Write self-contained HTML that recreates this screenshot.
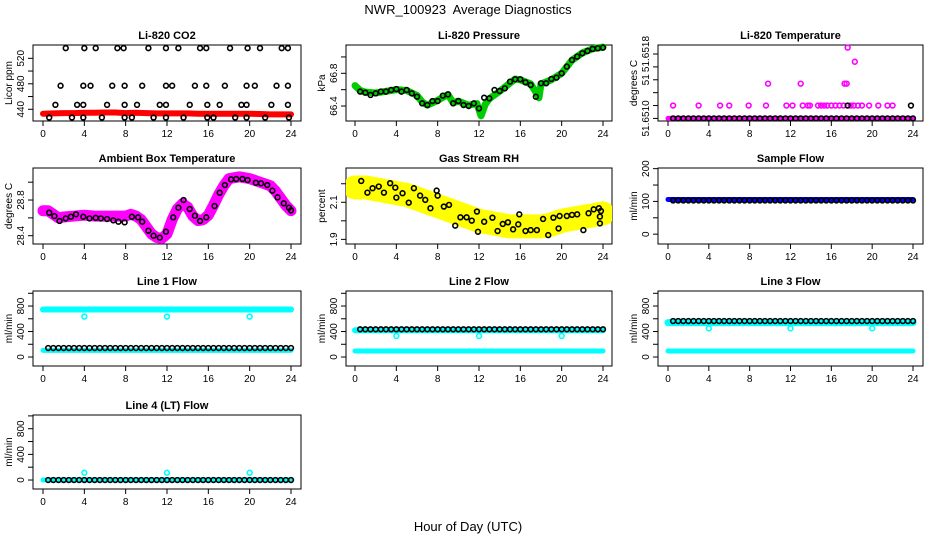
<!DOCTYPE html>
<html><head><meta charset="utf-8"><style>
html,body{margin:0;padding:0;background:#fff}
svg{display:block;font-family:"Liberation Sans",sans-serif}
</style></head><body>
<svg id="chart" width="936" height="540" viewBox="0 0 936 540" xmlns="http://www.w3.org/2000/svg">
<text x="468" y="14" text-anchor="middle" font-size="13" style="white-space:pre">NWR_100923&#160; Average Diagnostics</text>
<text x="468" y="531" text-anchor="middle" font-size="13">Hour of Day (UTC)</text>
</svg>
<script>
// ---------- data ----------
const halfHours=[0.5,1,1.5,2,2.5,3,3.5,4,4.5,5,5.5,6,6.5,7,7.5,8,8.5,9,9.5,10,10.5,11,11.5,12,12.5,13,13.5,14,14.5,15,15.5,16,16.5,17,17.5,18,18.5,19,19.5,20,20.5,21,21.5,22,22.5,23,23.5,24];
const bandHours=[0,1,2,3,4,5,6,7,8,9,10,11,12,13,14,15,16,17,18,19,20,21,22,23,24];
const xTicks=[0,4,8,12,16,20,24];

// CO2
const co2Hi=[2.2,4.0,5.1,7.2,7.8,10.2,11.9,13.1,15.2,15.8,18.1,19.8,21.0,23.1,23.7];
const co2Mid=[1.7,3.9,4.6,6.7,7.9,9.6,11.9,12.5,14.7,15.8,17.6,19.7,20.5,22.6,23.7];
const co2Low=[1.2,3.3,3.9,6.2,7.9,9.1,11.3,11.9,14.2,15.9,17.1,19.2,19.7,22.1,23.7];
const co2Min=[0.6,2.8,3.9,5.7,7.9,8.6,10.7,11.9,13.6,15.9,16.5,18.6,19.7,21.5,23.8];
const co2Levels=[536,477,447,427];
const co2Band=[433,433.5,434,434,434.5,434.5,435,435,434,434.5,434,433.5,433.5,433.5,433.5,433,433,433,433,433,433,432.5,432,432,432];

// Pressure
const presVals=[66.576,66.563,66.535,66.555,66.576,66.576,66.596,66.608,66.576,66.596,66.555,66.514,66.433,66.412,66.461,66.461,66.527,66.543,66.433,66.461,66.412,66.40,66.433,66.371,66.502,66.494,66.596,66.584,66.616,66.698,66.727,66.727,66.69,66.657,66.514,66.678,66.678,66.731,66.747,66.8,66.882,66.963,67.004,67.045,67.073,67.098,67.106,67.114];
const presBandHours=[0,0.5,1,2,3,4,5,6,6.5,7,8,9,9.5,10,11,11.8,12.2,12.6,13,14,15,15.5,16,17,17.5,17.8,18,19,20,21,22,23,24];
const presBandVals=[66.65,66.59,66.57,66.56,66.58,66.6,66.59,66.53,66.45,66.41,66.47,66.54,66.44,66.46,66.41,66.43,66.28,66.42,66.49,66.58,66.68,66.73,66.72,66.67,66.57,66.5,66.67,66.72,66.8,66.96,67.05,67.1,67.12];

// Temperature
const tempBase=51.6510;
const tempMidHours=[0.5,3,5.1,6,7.9,9.6,11.6,12.2,13.2,13.7,13.9,14.7,15,15.3,15.6,16,16.4,16.8,17.2,17.9,18.2,18.6,19,19.7,20.6,21.5,22];
const tempMidVal=51.6511;
const tempHighHours=[9.8,13,17.3,17.5,18.3,17.6];
const tempHighVals=[51.65127,51.65127,51.65127,51.65127,51.65144,51.65155];
const tempBlackExtraHours=[17.6,23.8];

// Ambient
const ambHours=[0.6,1.1,1.6,2.2,2.7,3.2,3.9,4.5,5.1,5.6,6.2,6.8,7.3,7.9,8.6,9.2,9.6,10.2,10.7,11.3,11.9,12.6,13.1,13.6,14.2,14.7,15.2,15.8,16.6,17.1,17.6,18.2,18.7,19.3,19.8,20.6,21.1,21.7,22.2,22.7,23.3,23.8,24];
const ambVals=[28.658,28.62,28.565,28.594,28.613,28.64,28.613,28.594,28.6,28.594,28.587,28.572,28.557,28.55,28.613,28.606,28.557,28.456,28.4,28.378,28.445,28.606,28.714,28.8,28.699,28.624,28.565,28.606,28.733,28.882,28.968,29.032,29.036,29.036,29.024,28.994,28.987,28.968,28.905,28.83,28.763,28.714,28.684];
const ambBandHours=[0,0.5,1,1.5,2,3,4,5,6,7,8,8.5,9,9.5,10,10.5,11,11.5,12,12.5,13,13.5,14,14.5,15,15.5,16,16.5,17,17.5,18,19,20,21,22,22.5,23,23.5,24];
const ambBandVals=[28.68,28.68,28.64,28.6,28.61,28.62,28.63,28.62,28.62,28.62,28.62,28.64,28.62,28.58,28.5,28.42,28.38,28.37,28.42,28.58,28.7,28.76,28.72,28.62,28.57,28.58,28.63,28.74,28.86,28.96,29.04,29.06,29.04,29.0,28.96,28.9,28.82,28.74,28.68];

// RH
const rhHours=[0.6,1.2,1.7,2.3,2.8,3.4,3.9,4.0,4.6,5.2,5.7,6.3,6.8,7.3,7.9,8.0,8.6,9.1,9.7,10.2,10.8,11.3,11.8,11.9,12.5,13.3,13.8,14.3,14.8,15.3,15.8,15.9,16.5,17.0,17.6,18.2,18.7,19.2,19.7,19.8,20.5,21.0,21.5,22.1,22.6,23.1,23.6,23.7,23.7,23.8];
const rhVals=[2.215,2.152,2.176,2.185,2.152,2.203,2.179,2.125,2.149,2.098,2.176,2.136,2.113,2.068,2.163,2.136,2.077,2.086,1.974,2.019,2.019,2.001,2.05,1.941,1.995,2.017,1.945,1.983,1.992,1.954,1.981,2.035,1.945,1.95,1.95,2.01,1.923,2.017,1.959,2.026,2.026,2.032,2.035,1.95,2.041,2.062,2.068,2.023,1.986,2.053];
const rhBand=[2.18,2.18,2.17,2.16,2.15,2.14,2.12,2.10,2.08,2.06,2.04,2.02,2.00,1.99,1.98,1.97,1.97,1.97,1.97,1.98,2.00,2.01,2.02,2.03,2.04];

// Flows
const sampleBlack=[103,103,103,103,103,103,103,103,103,103,103,103,103,103,103,103,103,103,103,103,103,103,103,103,103,103,103,103,103,103,103,103,103,103,103,103,103,103,103,103,103,103,103,103,103,103,103,103];
const sampleBand=[106,106];
const line1Black=[141,141,141,141,141,141,141,141,141,141,141,141,141,141,141,141,141,141,141,141,141,141,141,141,141,141,141,141,141,141,141,141,141,141,141,141,141,141,141,141,141,141,141,141,141,141,141,141];
const line1BandHi=[745,745], line1BandLo=[105,105], line1Dips=[635,635,635];
const line2Black=[435,435,435,435,435,435,435,435,435,435,435,435,435,435,435,435,435,435,435,435,435,435,435,435,435,435,435,435,435,435,435,435,435,435,435,435,435,435,435,435,435,435,435,435,435,435,435,435];
const line2BandHi=[420,420], line2BandLo=[94,94], line2Dips=[330,330,330];
const line3Black=[565,565,565,565,565,565,565,565,565,565,565,565,565,565,565,565,565,565,565,565,565,565,565,565,565,565,565,565,565,565,565,565,565,565,565,565,565,565,565,565,565,565,565,565,565,565,565,565];
const line3BandHi=[540,540], line3BandLo=[94,94], line3Dips=[450,450,450];
const line4Black=[0,0,0,0,0,0,0,0,0,0,0,0,0,0,0,0,0,0,0,0,0,0,0,0,0,0,0,0,0,0,0,0,0,0,0,0,0,0,0,0,0,0,0,0,0,0,0,0];
const line4BandHi=[0,0], line4Dips=[114,114,114];
const dipHours=[4,12,20];
const bandEnds=[0,24];
const flowTicks=[0,200,400,600,800,1000], flowLabels=['0','','400','','800',''];

// ---------- drawing ----------
const svg=document.getElementById('chart');
const NS='http://www.w3.org/2000/svg';
const cols=[{x0:33,x1:301,h0:43,h24:291},{x0:346,x1:612,h0:355,h24:603},{x0:658,x1:923,h0:668,h24:913}];
const rows=[{y0:45,y1:121},{y0:168,y1:244},{y0:291,y1:366},{y0:415,y1:489}];
function mk(tag,attrs,parent){const e=document.createElementNS(NS,tag);for(const k in attrs)e.setAttribute(k,attrs[k]);(parent||svg).appendChild(e);return e;}

function panel(c,r,title,ylab,dmin,dmax,yt,yl,slug){
  const C=cols[c],R=rows[r];
  const g=mk('g',{});
  
  
  const sx=h=>C.h0+(h/24)*(C.h24-C.h0);
  const sy=v=>R.y1-(v-dmin)/(dmax-dmin)*(R.y1-R.y0);
  const t=mk('text',{x:(C.x0+C.x1)/2,y:R.y0-6,'text-anchor':'middle','font-size':'11','font-weight':'bold'},g);
  t.textContent=title;
  
  
  const box=mk('rect',{x:C.x0,y:R.y0,width:C.x1-C.x0,height:R.y1-R.y0,fill:'none',stroke:'#000','stroke-width':1},g);
  
  
  const xa=mk('g',{},g);
  
  
  mk('line',{x1:sx(0),x2:sx(24),y1:R.y1,y2:R.y1,stroke:'#000'},xa);
  xTicks.forEach(h=>{
    mk('line',{x1:sx(h),x2:sx(h),y1:R.y1,y2:R.y1+5,stroke:'#000'},xa);
    const l=mk('text',{x:sx(h),y:R.y1+16,'text-anchor':'middle','font-size':'10'},xa);
    l.textContent=h;
    
    
  });
  const ya=mk('g',{},g);
  
  
  mk('line',{x1:C.x0,x2:C.x0,y1:sy(yt[0]),y2:sy(yt[yt.length-1]),stroke:'#000'},ya);
  yt.forEach((v,i)=>{
    const y=sy(v);
    mk('line',{x1:C.x0-5,x2:C.x0,y1:y,y2:y,stroke:'#000'},ya);
    if(yl[i]){const l=mk('text',{x:C.x0-9,y:y,'text-anchor':'middle','font-size':'10',transform:`rotate(-90 ${C.x0-9} ${y})`},ya);
      l.textContent=yl[i];
      
      }
  });
  const ym=(R.y0+R.y1)/2, yx=C.x0-21;
  const yt2=mk('text',{x:yx,y:ym,'text-anchor':'middle','font-size':'10',transform:`rotate(-90 ${yx} ${ym})`},g);
  yt2.textContent=ylab;
  
  
  const clip='clip'+slug;
  const cp=mk('clipPath',{id:clip},g);mk('rect',{x:C.x0,y:R.y0-3,width:C.x1-C.x0,height:R.y1-R.y0+3},cp);
  const data=mk('g',{'clip-path':`url(#${clip})`},g);
  
  
  return {
    band(hs,vs,color,w){const pts=hs.map((h,i)=>sx(h)+','+sy(vs[i])).join(' ');
      const p=mk('polyline',{points:pts,fill:'none',stroke:color,'stroke-width':w,'stroke-linejoin':'round','stroke-linecap':'round'},data);
      
      },
    pts(hs,vs,color){hs.forEach((h,i)=>{const e=mk('circle',{cx:sx(h),cy:sy(vs[i]),r:2.4,fill:'none',stroke:color,'stroke-width':1.6},data);
      
      });},
    ptsConst(hs,v,color){hs.forEach(h=>{const e=mk('circle',{cx:sx(h),cy:sy(v),r:2.4,fill:'none',stroke:color,'stroke-width':1.6},data);
      
      });}
  };
}

// CO2
let p=panel(0,0,'Li-820 CO2','Licor ppm',421.6,540.9,[440,460,480,500,520],['440','','480','','520'],'co2');
p.band(bandHours,co2Band,'#ff0000',6);
p.ptsConst(co2Hi,co2Levels[0],'#000');p.ptsConst(co2Mid,co2Levels[1],'#000');p.ptsConst(co2Low,co2Levels[2],'#000');p.ptsConst(co2Min,co2Levels[3],'#000');
// Pressure
p=panel(1,0,'Li-820 Pressure','kPa',66.217,67.146,[66.4,66.6,66.8,67.0],['66.4','','66.8',''],'pressure');
p.band(presBandHours,presBandVals,'#00cc00',7);
p.pts(halfHours,presVals,'#000');
// Temperature
p=panel(2,0,'Li-820 Temperature','degrees C',51.65098,51.65157,[51.6510,51.6511,51.6512,51.6513,51.6514,51.6515],['51.6510','','','51','','51.6518'],'temperature');
p.band(bandEnds,[tempBase,tempBase],'#ff00ff',5);
p.ptsConst(halfHours,tempBase,'#000');
p.ptsConst(tempMidHours,tempMidVal,'#ff00ff');
p.pts(tempHighHours,tempHighVals,'#ff00ff');
p.ptsConst(tempBlackExtraHours,tempMidVal,'#000');
// Ambient
p=panel(0,1,'Ambient Box Temperature','degrees C',28.307,29.159,[28.4,28.6,28.8,29.0],['28.4','','28.8',''],'ambient');
p.band(ambBandHours,ambBandVals,'#ff00ff',11);
p.pts(ambHours,ambVals,'#000');
// RH
p=panel(1,1,'Gas Stream RH','percent',1.875,2.285,[1.9,2.0,2.1,2.2],['1.9','','2.1',''],'rh');
p.band(bandHours,rhBand,'#ffff00',24);
p.pts(rhHours,rhVals,'#000');
// Sample flow
p=panel(2,1,'Sample Flow','ml/min',-30,202,[0,50,100,150,200],['0','','100','','200'],'sample-flow');
p.band(bandEnds,sampleBand,'#0000ff',5);
p.pts(halfHours,sampleBlack,'#000');
// Line flows
p=panel(0,2,'Line 1 Flow','ml/min',-141,1036,flowTicks,flowLabels,'line1-flow');
p.band(bandEnds,line1BandHi,'#00ffff',6);p.band(bandEnds,line1BandLo,'#00ffff',5);
p.pts(dipHours,line1Dips,'#00ffff');p.pts(halfHours,line1Black,'#000');
p=panel(1,2,'Line 2 Flow','ml/min',-141,1036,flowTicks,flowLabels,'line2-flow');
p.band(bandEnds,line2BandHi,'#00ffff',6);p.band(bandEnds,line2BandLo,'#00ffff',5);
p.pts(dipHours,line2Dips,'#00ffff');p.pts(halfHours,line2Black,'#000');
p=panel(2,2,'Line 3 Flow','ml/min',-141,1036,flowTicks,flowLabels,'line3-flow');
p.band(bandEnds,line3BandHi,'#00ffff',7);p.band(bandEnds,line3BandLo,'#00ffff',5);
p.pts(dipHours,line3Dips,'#00ffff');p.pts(halfHours,line3Black,'#000');
p=panel(0,3,'Line 4 (LT) Flow','ml/min',-140,1014,flowTicks,flowLabels,'line4-flow');
p.band(bandEnds,line4BandHi,'#00ffff',5);
p.pts(dipHours,line4Dips,'#00ffff');p.pts(halfHours,line4Black,'#000');
</script>
</body></html>
